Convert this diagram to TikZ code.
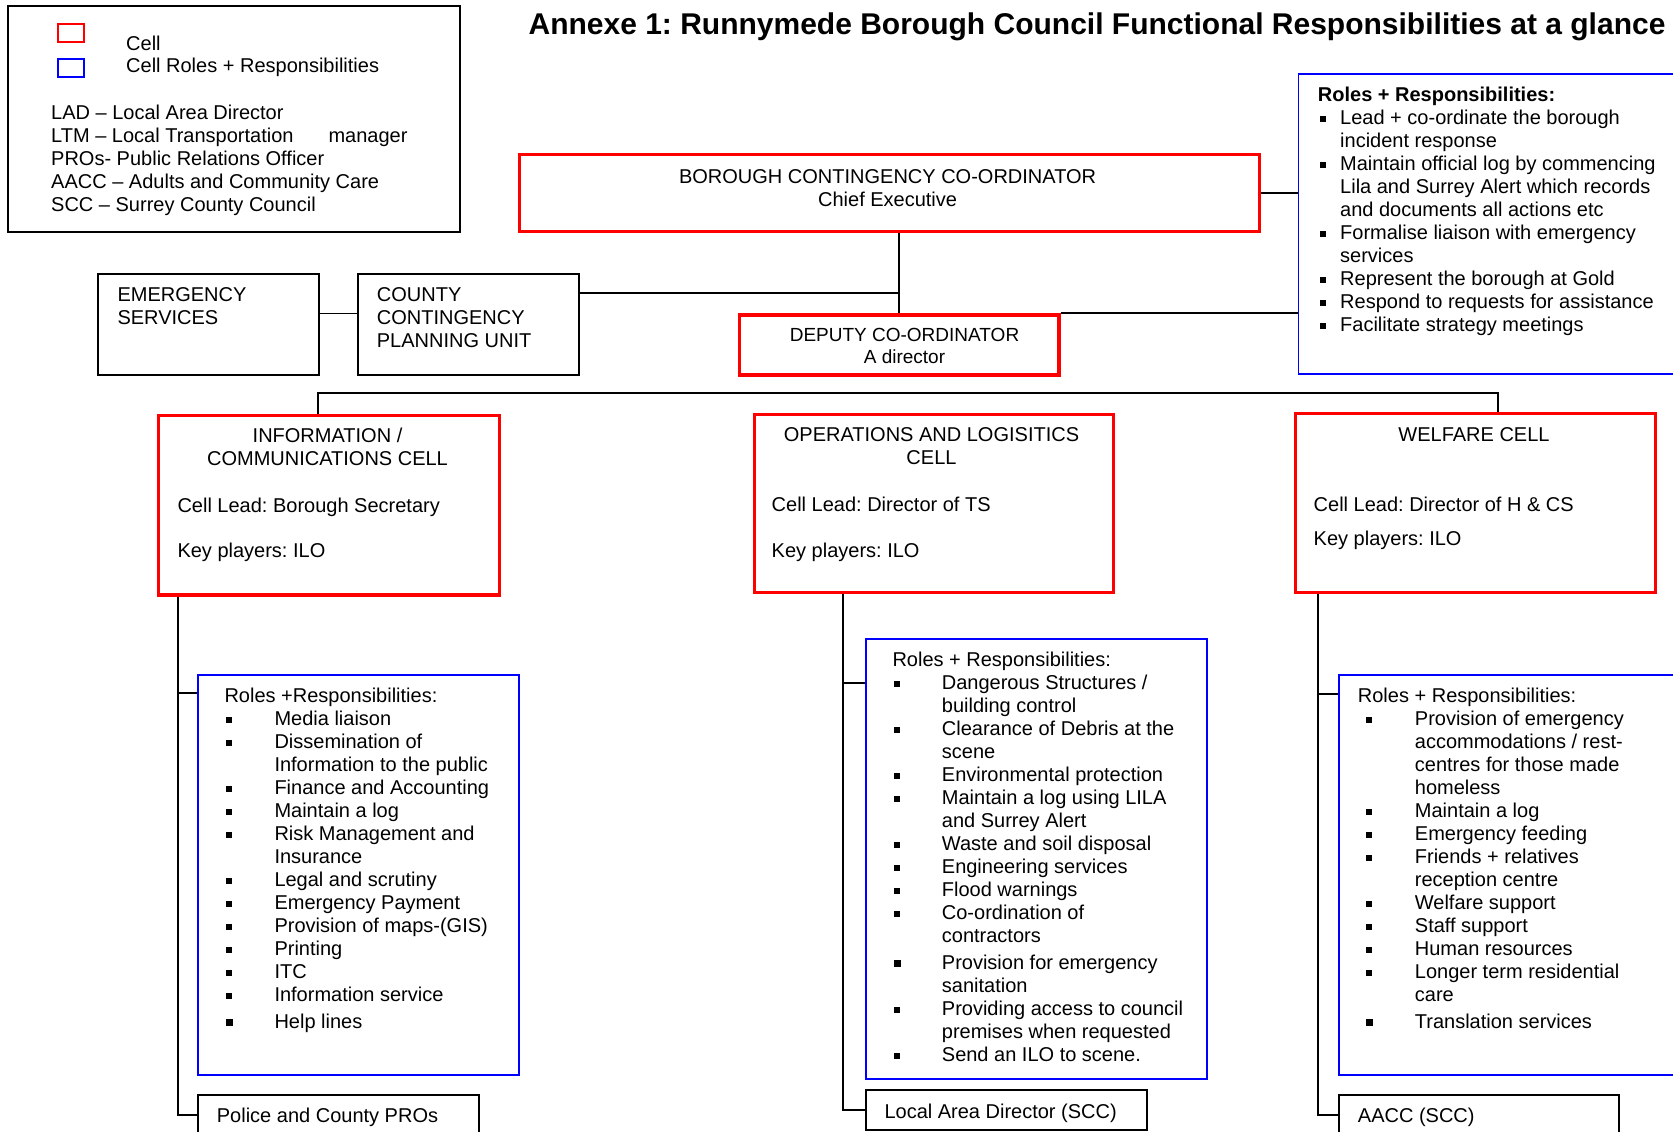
\documentclass[tikz,border=0pt]{standalone}
\usepackage{fontspec}
\setmainfont{Liberation Sans}
\usetikzlibrary{calc}
\frenchspacing
\definecolor{cellred}{RGB}{255,0,0}
\definecolor{roleblue}{RGB}{0,0,255}
\newcommand{\blt}[1]{\hspace*{#1}\rule[3pt]{5.5pt}{5.5pt}}
\newcommand{\bltb}[1]{\hspace*{#1}\rule[2.5pt]{7pt}{7pt}}
\tikzset{
  cellbox/.style={draw=cellred,line width=3.2pt,anchor=north west,inner sep=0pt},
  rolebox/.style={draw=roleblue,line width=1.8pt,anchor=north west,inner sep=0pt},
  plainbox/.style={draw,line width=1.8pt,anchor=north west,inner sep=0pt},
  txt/.style={inner sep=0pt,anchor=base west,font=\fontsize{20}{23}\selectfont},
  ctxt/.style={txt,anchor=base},
  link/.style={line width=1.8pt}
}

\begin{document}
\begin{tikzpicture}[x=1pt,y=-1pt]
\useasboundingbox (0,0) rectangle (1673,1132);
\clip (0,0) rectangle (1673,1132);

% legend
\node[plainbox,minimum width=452pt,minimum height=226pt] (legend) at (7,5) {};
\node[cellbox,line width=1.6pt,minimum width=26pt,minimum height=18pt] (legcell) at (57,23) {};
\node[rolebox,line width=1.6pt,minimum width=26pt,minimum height=18pt] (legrole) at (57,58) {};
\node[txt] (legcelltxt) at (126,50.7) {Cell};
\node[txt] (legroletxt) at (126,72.7) {Cell Roles + Responsibilities};
\node[txt] (abbrev) at (51,119) {\begin{tabular}[t]{@{}l@{}}
LAD – Local Area Director\\
LTM – Local Transportation\hspace{35pt}manager\\
PROs- Public Relations Officer\\
AACC – Adults and Community Care\\
SCC – Surrey County Council\end{tabular}};

\node[ctxt,font=\fontsize{30}{36}\selectfont\bfseries] (title) at (1097,35)
  {Annexe 1: Runnymede Borough Council Functional Responsibilities at a glance};

% top level
\node[cellbox,minimum width=740.5pt,minimum height=76.5pt] (boro) at (517.5,153) {};
\node[ctxt] (borotxt) at (887.6,183.3) {\begin{tabular}[t]{@{}c@{}}BOROUGH CONTINGENCY CO-ORDINATOR\\Chief Executive\end{tabular}};
\node[cellbox,minimum width=319.5pt,minimum height=60pt] (deputy) at (737.8,313.3) {};
\node[ctxt,font=\fontsize{19}{22}\selectfont] (deputytxt) at (904.5,341.7) {\begin{tabular}[t]{@{}c@{}}DEPUTY CO-ORDINATOR\\A director\end{tabular}};
\node[plainbox,minimum width=220.7pt,minimum height=100.7pt] (emerg) at (97.3,273.3) {};
\node[txt] (emergtxt) at (117.3,301.7) {\begin{tabular}[t]{@{}l@{}}EMERGENCY\\SERVICES\end{tabular}};
\node[plainbox,minimum width=220.7pt,minimum height=100.7pt] (county) at (357.3,273.3) {};
\node[txt] (countytxt) at (376.7,301.7) {\begin{tabular}[t]{@{}l@{}}COUNTY\\CONTINGENCY\\PLANNING UNIT\end{tabular}};

\node[rolebox,minimum width=400pt,minimum height=300pt] (toproles) at (1297.5,73.3) {};
\node[txt] (toprolestxt) at (1317.7,101.7) {\begin{tabular}[t]{@{}p{22.3pt}@{}l@{}}
\multicolumn{2}{@{}l@{}}{\bfseries Roles + Responsibilities:}\\
\blt{2.5pt} & Lead + co-ordinate the borough\\
 & incident response\\
\blt{2.5pt} & Maintain official log by commencing\\
 & Lila and Surrey Alert which records\\
 & and documents all actions etc\\
\blt{2.5pt} & Formalise liaison with emergency\\
 & services\\
\blt{2.5pt} & Represent the borough at Gold\\
\blt{2.5pt} & Respond to requests for assistance\\
\blt{2.5pt} & Facilitate strategy meetings\end{tabular}};

% cells
\node[cellbox,minimum width=341pt,minimum height=179.3pt] (info) at (156.7,414) {};
\node[ctxt] (infotxt) at (327.5,442.7) {\begin{tabular}[t]{@{}c@{}}INFORMATION /\\COMMUNICATIONS CELL\end{tabular}};
\node[txt] (infolead) at (177.3,512.7) {Cell Lead: Borough Secretary};
\node[txt] (infokey) at (177.3,557.3) {Key players: ILO};

\node[cellbox,minimum width=359.5pt,minimum height=178.5pt] (ops) at (752.5,412.5) {};
\node[ctxt] (opstxt) at (931.5,441.7) {\begin{tabular}[t]{@{}c@{}}OPERATIONS AND LOGISITICS\\CELL\end{tabular}};
\node[txt] (opslead) at (771.5,511) {Cell Lead: Director of TS};
\node[txt] (opskey) at (771.5,557) {Key players: ILO};

\node[cellbox,minimum width=360pt,minimum height=179pt] (welfare) at (1294,412) {};
\node[ctxt] (welfaretxt) at (1474,441.7) {WELFARE CELL};
\node[txt] (welfarelead) at (1313.5,511) {Cell Lead: Director of H \& CS};
\node[txt] (welfarekey) at (1313.5,545) {Key players: ILO};

% roles
\node[rolebox,minimum width=321pt,minimum height=400.3pt] (inforoles) at (196.7,674) {};
\node[txt] (inforolestxt) at (224.3,702.7) {\begin{tabular}[t]{@{}p{50pt}@{}l@{}}
\multicolumn{2}{@{}l@{}}{Roles +Responsibilities:}\\
\blt{1.5pt} & Media liaison\\
\blt{1.5pt} & Dissemination of\\
 & Information to the public\\
\blt{1.5pt} & Finance and Accounting\\
\blt{1.5pt} & Maintain a log\\
\blt{1.5pt} & Risk Management and\\
 & Insurance\\
\blt{1.5pt} & Legal and scrutiny\\
\blt{1.5pt} & Emergency Payment\\
\blt{1.5pt} & Provision of maps-(GIS)\\
\blt{1.5pt} & Printing\\
\blt{1.5pt} & ITC\\
\blt{1.5pt} & Information service\\[4pt]
\bltb{1.5pt} & Help lines\end{tabular}};

\node[rolebox,minimum width=340.7pt,minimum height=439.7pt] (opsroles) at (865,638) {};
\node[txt] (opsrolestxt) at (892.3,666.7) {\begin{tabular}[t]{@{}p{49.4pt}@{}l@{}}
\multicolumn{2}{@{}l@{}}{Roles + Responsibilities:}\\
\blt{1.5pt} & Dangerous Structures /\\
 & building control\\
\blt{1.5pt} & Clearance of Debris at the\\
 & scene\\
\blt{1.5pt} & Environmental protection\\
\blt{1.5pt} & Maintain a log using LILA\\
 & and Surrey Alert\\
\blt{1.5pt} & Waste and soil disposal\\
\blt{1.5pt} & Engineering services\\
\blt{1.5pt} & Flood warnings\\
\blt{1.5pt} & Co-ordination of\\
 & contractors\\[4pt]
\bltb{1.5pt} & Provision for emergency\\
 & sanitation\\
\blt{1.5pt} & Providing access to council\\
 & premises when requested\\
\blt{1.5pt} & Send an ILO to scene.\end{tabular}};

\node[rolebox,minimum width=400pt,minimum height=400.3pt] (welfroles) at (1337.7,674) {};
\node[txt] (welfrolestxt) at (1357.7,702.7) {\begin{tabular}[t]{@{}p{57pt}@{}l@{}}
\multicolumn{2}{@{}l@{}}{Roles + Responsibilities:}\\
\blt{8.5pt} & Provision of emergency\\
 & accommodations / rest-\\
 & centres for those made\\
 & homeless\\
\blt{8.5pt} & Maintain a log\\
\blt{8.5pt} & Emergency feeding\\
\blt{8.5pt} & Friends + relatives\\
 & reception centre\\
\blt{8.5pt} & Welfare support\\
\blt{8.5pt} & Staff support\\
\blt{8.5pt} & Human resources\\
\blt{8.5pt} & Longer term residential\\
 & care\\[4pt]
\bltb{8.5pt} & Translation services\end{tabular}};

% outside contacts
\node[plainbox,minimum width=281pt,minimum height=40pt] (police) at (196.7,1094) {};
\node[txt] (policetxt) at (216.7,1122.7) {Police and County PROs};
\node[plainbox,minimum width=280.7pt,minimum height=40pt] (lad) at (865,1089.3) {};
\node[txt] (ladtxt) at (884.3,1118.3) {Local Area Director (SCC)};
\node[plainbox,minimum width=280pt,minimum height=40pt] (aacc) at (1337.7,1094) {};
\node[txt] (aacctxt) at (1357.7,1122.7) {AACC (SCC)};

% connectors
\coordinate (cjoin) at ($(deputy.north)+(0,-20)$);
\coordinate (busl) at (317.7,393);
\coordinate (busr) at (1498,393);
\draw[link] (deputy.north) -- (deputy.north |- boro.south);
\draw[link] (county.east |- cjoin) -- (cjoin);
\draw[link] ([yshift=11pt]emerg.east) -- ([yshift=11pt]county.west);
\draw[link] (boro.east) -- (boro.east -| toproles.west);
\draw[link] (deputy.north east) -- (deputy.north east -| toproles.west);
\draw[link] (info.north -| busl) -- (busl) -- (busr) -- (welfare.north -| busr);
\draw[link] ($(info.south west)+(21,0)$) |- ($(inforoles.north west)+(0,19.3)$);
\draw[link] ($(info.south west)+(21,0)$) |- (police.west);
\draw[link] ($(ops.south west)+(90.5,0)$) |- ($(opsroles.north west)+(0,44.7)$);
\draw[link] ($(ops.south west)+(90.5,0)$) |- (lad.west);
\draw[link] ($(welfare.south west)+(23.7,0)$) |- ($(welfroles.north west)+(0,20)$);
\draw[link] ($(welfare.south west)+(23.7,0)$) |- (aacc.west);
\end{tikzpicture}
\end{document}
